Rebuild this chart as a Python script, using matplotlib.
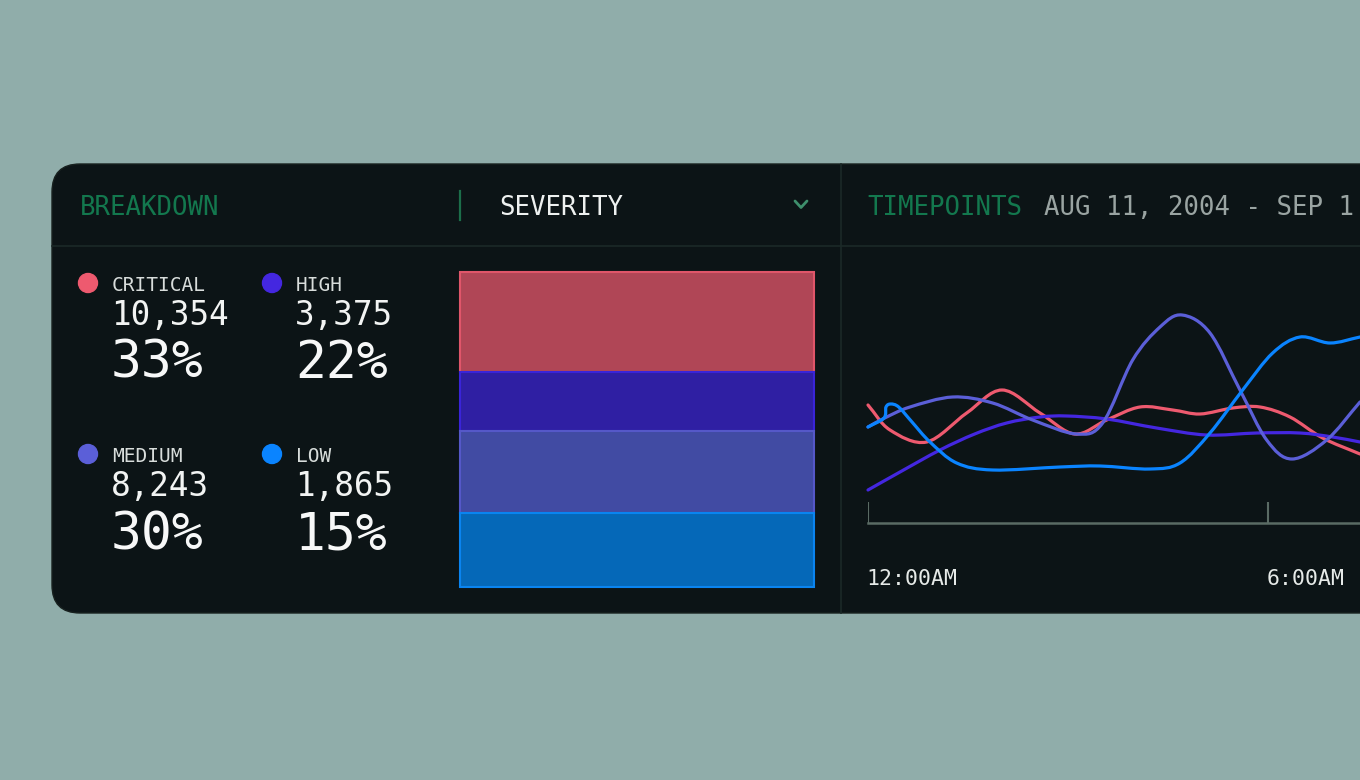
import numpy as np
import matplotlib
matplotlib.use("Agg")
import matplotlib.pyplot as plt
from matplotlib.patches import FancyBboxPatch, Circle, PathPatch
from matplotlib.path import Path

plt.rcParams['font.family'] = ['DejaVu Sans Mono', 'DejaVu Sans']

# --- data ---
categories = ['CRITICAL', 'HIGH', 'MEDIUM', 'LOW']
counts = [10354, 3375, 8243, 1865]
percents = [33, 22, 30, 15]
bar_share = [31.7, 18.5, 26.0, 23.5]   # segment heights as drawn in the bar (top -> bottom)

dot_colors = ['#EE5A6F', '#4427E0', '#5B5FD8', '#0A84FF']
fill_colors = ['#B04656', '#2F1FA3', '#414BA3', '#0568B8']
edge_colors = ['#E0566A', '#3A24D8', '#5558C8', '#0A84F0']

tick_hours = [0, 6]
tick_labels = ['12:00AM', '6:00AM']

crit_h = [0, 0.33, 0.88, 1.48, 2.01, 2.58, 3.10, 3.58, 4.08, 4.57, 4.98, 5.47, 5.88, 6.33, 6.82, 7.38]
crit_v = [118, 93, 81, 110, 133, 110, 89, 103, 116, 113, 109, 115, 116, 106, 85, 69]

high_h = [0, 0.48, 1.08, 1.60, 2.08, 2.58, 2.98, 3.58, 4.33, 5.08, 5.83, 6.48, 6.97, 7.38]
high_v = [33, 51, 73, 89, 100, 106, 107, 104, 95, 88, 90, 90, 86, 81]

med_h = [0, 0.25, 0.63, 1.27, 1.87, 2.47, 3.13, 3.52, 3.97, 4.38, 4.71, 5.13, 5.58, 5.98, 6.36, 6.88, 7.38]
med_v = [96, 105, 116, 126, 120, 103, 89, 100, 163, 196, 208, 190, 133, 83, 64, 83, 121]

low_h = [0, 0.24, 0.27, 0.34, 0.46, 0.66, 0.93, 1.33, 1.87, 2.88, 3.48, 4.23, 4.68, 5.13, 5.62, 6.07, 6.48, 6.93, 7.38]
low_v = [96, 105, 116, 119, 116, 101, 81, 60, 53, 56, 57, 54, 60, 90, 133, 170, 186, 180, 186]

series = [(crit_h, crit_v), (high_h, high_v), (med_h, med_v), (low_h, low_v)]

BG = '#90ADAA'
CARD = '#0C1416'
RULE = '#1B2927'
GREEN = '#13784E'


def smooth_path(xs, ys):
    # catmull-rom through the points, drawn as cubic beziers
    P = np.column_stack([xs, ys]).astype(float)
    P = np.vstack([2 * P[0] - P[1], P, 2 * P[-1] - P[-2]])
    verts = [P[1]]
    codes = [Path.MOVETO]
    for i in range(1, len(P) - 2):
        p0, p1, p2, p3 = P[i - 1], P[i], P[i + 1], P[i + 2]
        verts += [p1 + (p2 - p0) / 6, p2 - (p3 - p1) / 6, p2]
        codes += [Path.CURVE4] * 3
    return Path(verts, codes)


fig = plt.figure(figsize=(13.6, 7.8), dpi=100, facecolor=BG)

# overlay in pixel coordinates
bg = fig.add_axes([0, 0, 1, 1])
bg.set_xlim(0, 1360)
bg.set_ylim(780, 0)
bg.axis('off')

bg.add_patch(FancyBboxPatch((52, 164), 1400, 449, boxstyle="round,pad=0,rounding_size=28",
                            fc=CARD, ec='#18211F', lw=1))
bg.plot([52, 1360], [246, 246], color=RULE, lw=1.2)
bg.plot([841, 841], [164, 613], color=RULE, lw=1.2)
bg.plot([460, 460], [191, 220], color='#1C6E4A', lw=1.6)
bg.plot([795, 801, 807], [201, 207.5, 201], color='#3E8F6C', lw=2, solid_capstyle='round')

bg.text(80, 215, 'BREAKDOWN', color=GREEN, fontsize=18.5, va='baseline')
bg.text(499, 215, 'SEVERITY', color='#EEF1F0', fontsize=18.5, va='baseline')
bg.text(867, 215, 'TIMEPOINTS', color=GREEN, fontsize=18.5, va='baseline')
bg.text(1044, 215, 'AUG 11, 2004 - SEP 1', color='#9AA4A2', fontsize=18.5, va='baseline')

# legend grid
col_dot = [88, 272]
col_txt = [112, 296]
row_base = [291, 462]
for i, cat in enumerate(categories):
    c, r = i % 2, i // 2
    y0 = row_base[r]
    bg.add_patch(Circle((col_dot[c], y0 - 8), 9.5, color=dot_colors[i]))
    bg.text(col_txt[c], y0, cat, color='#D8DDDB', fontsize=14, va='baseline')
    bg.text(col_txt[c] - 1, y0 + 34, f"{counts[i]:,}", color='#F2F4F3', fontsize=23.5, va='baseline')
    bg.text(col_txt[c] - 1, y0 + 87, f"{percents[i]}%", color='#F7F8F8', fontsize=37, va='baseline')

# stacked severity bar
W, H = 1360, 780
axb = fig.add_axes([459.5 / W, (H - 587) / H, 354 / W, 315 / H])
axb.set_xlim(0, 1)
axb.set_ylim(0, sum(bar_share))
axb.axis('off')
bottom = sum(bar_share)
for i in range(len(categories)):
    bottom -= bar_share[i]
    axb.bar(0.5, bar_share[i], width=1, bottom=bottom, color=fill_colors[i],
            edgecolor=edge_colors[i], linewidth=1.5, clip_on=False)

# timepoint lines
axl = fig.add_axes([868 / W, (H - 523) / H, (W - 868) / W, 273 / H])
axl.set_xlim(0, 7.38)
axl.set_ylim(0, 273)
axl.axis('off')
axl.plot([0, 7.38], [0, 0], color='#5A6B64', lw=1.8, clip_on=False)
axl.vlines(tick_hours, 0, 21, color='#5A6B64', lw=1.5)
for h, lab in zip(tick_hours, tick_labels):
    axl.text(h - 0.02, -62, lab, color='#E6EAE8', fontsize=15.5, va='baseline', ha='left')
for (xs, ys), col in zip(series, dot_colors):
    axl.add_patch(PathPatch(smooth_path(xs, ys), fill=False, edgecolor=col, lw=2.3,
                            capstyle='round', clip_on=False))

fig.savefig('out.png', dpi=100, facecolor=BG)
